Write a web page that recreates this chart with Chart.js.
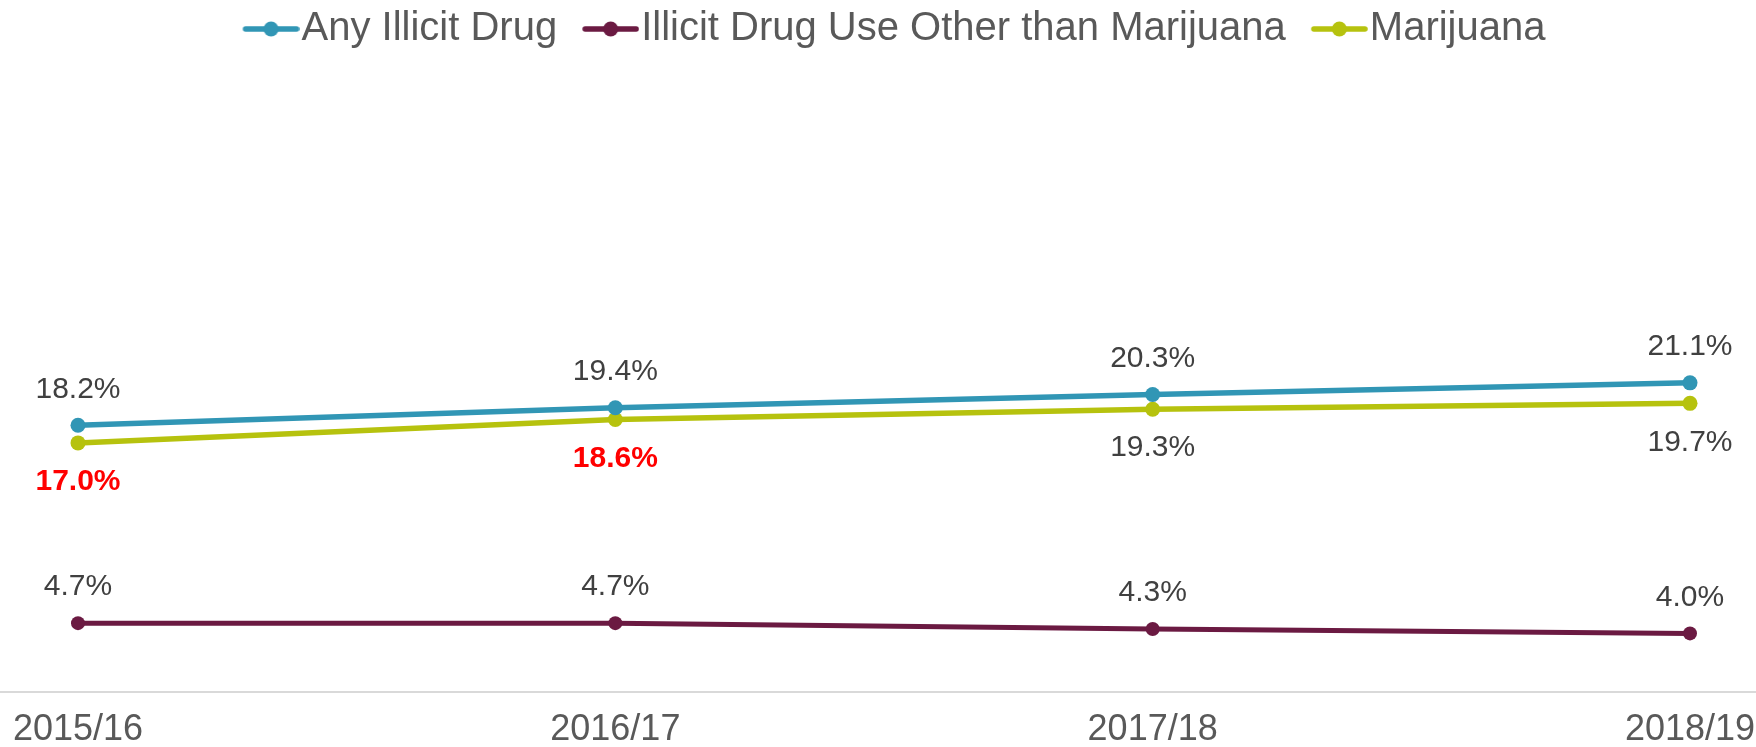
<!DOCTYPE html>
<html>
<head>
<meta charset="utf-8">
<script src="https://cdn.jsdelivr.net/npm/chart.js@4/dist/chart.umd.min.js"></script>
<style>
  html, body { margin: 0; padding: 0; background: #fff; }
  #wrap { width: 1756px; height: 747px; }
</style>
</head>
<body>
<div id="wrap"><canvas id="grafico"></canvas></div>
<script>
const anos = ["2015/16", "2016/17", "2017/18", "2018/19"];
const qualquerDroga = [18.2, 19.4, 20.3, 21.1];
const outrasDrogas = [4.7, 4.7, 4.3, 4.0];
const maconha = [17.0, 18.6, 19.3, 19.7];
const maconhaDestaque = [true, true, false, false];

const fonte = "'Liberation Sans', Arial, sans-serif";

// marcador da legenda: linha com bolinha no meio (fica a direita dentro do canvas)
const marcador = (cor) => {
    const c = document.createElement("canvas");
    c.width = 95;
    c.height = 18;
    const g = c.getContext("2d");
    g.strokeStyle = cor;
    g.lineWidth = 5.5;
    g.lineCap = "round";
    g.beginPath();
    g.moveTo(41, 9);
    g.lineTo(92, 9);
    g.stroke();
    g.fillStyle = cor;
    g.beginPath();
    g.arc(66.5, 9, 7.5, 0, Math.PI * 2);
    g.fill();
    return c;
}

// linha do eixo ocupando toda a largura
const linhaEixo = {
    id: "linhaEixo",
    beforeDatasetsDraw(chart) {
        const c = chart.ctx;
        const y = chart.chartArea.bottom;
        c.save();
        c.strokeStyle = "#D9D9D9";
        c.lineWidth = 2;
        c.beginPath();
        c.moveTo(0, y);
        c.lineTo(chart.width, y);
        c.stroke();
        c.restore();
    }
};

const rotulos = {
    id: "rotulos",
    afterDatasetsDraw(chart) {
        const c = chart.ctx;
        chart.data.datasets.forEach((ds, i) => {
            chart.getDatasetMeta(i).data.forEach((ponto, j) => {
                const destaque = ds.destaque && ds.destaque[j];
                c.save();
                c.font = (destaque ? "bold " : "") + "30px " + fonte;
                c.fillStyle = destaque ? "#FF0000" : "#404040";
                c.textAlign = "center";
                c.textBaseline = "middle";
                const y = ds.rotuloAbaixo ? ponto.y + 39 : ponto.y - 36;
                c.fillText(ds.data[j].toFixed(1) + "%", ponto.x, y);
                c.restore();
            });
        });
    }
};

const ctx = document.getElementById("grafico");

const grafico = new Chart(ctx, {
    type: "line",
    data: {
        labels: anos,
        datasets: [{
            label: "Any Illicit Drug",
            data: qualquerDroga,
            borderColor: "#3196B5",
            backgroundColor: "#3196B5",
            borderWidth: 5.5,
            pointRadius: 7.5,
            pointBorderWidth: 0,
            clip: false
        }, {
            label: "Illicit Drug Use Other than Marijuana",
            data: outrasDrogas,
            borderColor: "#6B1A42",
            backgroundColor: "#6B1A42",
            borderWidth: 5,
            pointRadius: 7,
            pointBorderWidth: 0,
            clip: false
        }, {
            label: "Marijuana",
            data: maconha,
            borderColor: "#B6C20E",
            backgroundColor: "#B6C20E",
            borderWidth: 5.5,
            pointRadius: 7.5,
            pointBorderWidth: 0,
            clip: false,
            rotuloAbaixo: true,
            destaque: maconhaDestaque
        }]
    },
    options: {
        responsive: true,
        maintainAspectRatio: false,
        animation: false,
        layout: { padding: { left: 78, right: 66, top: 4, bottom: -21 } },
        plugins: {
            tooltip: { enabled: false },
            legend: {
                position: "top",
                labels: {
                    usePointStyle: true,
                    pointStyleWidth: 59,
                    padding: 5,
                    color: "#595959",
                    font: { size: 40, family: fonte },
                    generateLabels: (chart) => chart.data.datasets.map((ds, i) => ({
                        text: ds.label,
                        pointStyle: marcador(ds.borderColor),
                        fillStyle: ds.borderColor,
                        strokeStyle: ds.borderColor,
                        lineWidth: 0,
                        fontColor: "#595959",
                        hidden: false,
                        datasetIndex: i
                    }))
                }
            }
        },
        scales: {
            x: {
                offset: false,
                grid: { display: false, drawTicks: false },
                border: { display: false },
                ticks: {
                    color: "#595959",
                    font: { size: 36, family: fonte, lineHeight: 76 / 36 },
                    padding: 0,
                    maxRotation: 0,
                    autoSkip: false
                }
            },
            y: {
                display: false,
                min: 0,
                max: 43.2
            }
        }
    },
    plugins: [linhaEixo, rotulos]
});
</script>
</body>
</html>
